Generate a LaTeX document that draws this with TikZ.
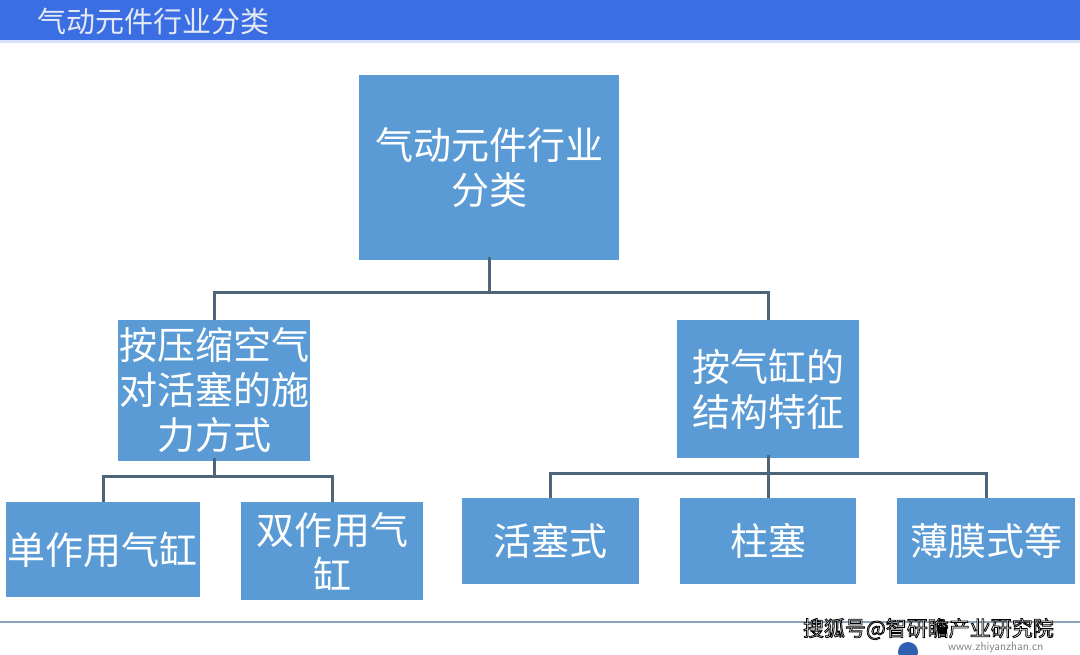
\documentclass[tikz,border=0pt]{standalone}
\usepackage{fontspec}
\newfontfamily\cjk{Noto Sans CJK SC}
\definecolor{hdr}{HTML}{3B6DE3}
\definecolor{boxc}{HTML}{5B9BD5}
\definecolor{connc}{HTML}{4E6478}
\definecolor{rulec}{HTML}{8FA3B8}
\definecolor{titletext}{HTML}{E4E9F4}
\definecolor{logoc}{HTML}{2E5FB0}
\newcommand{\outlinedtext}[1]{\special{pdf:literal direct 2 Tr 0.8 w 0 0 0 RG}#1\special{pdf:literal direct 0 Tr}}
\begin{document}
\begin{tikzpicture}[x=1pt,y=-1pt,
  box/.style={draw=none, fill=boxc, inner sep=0pt, text=white,
    font=\cjk\fontsize{38}{45}\selectfont, align=center},
  conn/.style={draw=connc, line width=3pt},
]
\useasboundingbox (0,0) rectangle (1080,654);
\fill[white] (0,0) rectangle (1080,654);
% header
\fill[hdr] (0,0) rectangle (1080,40);
\fill[hdr!20] (0,40) rectangle (1080,43);
\node[anchor=west, inner sep=0pt, text=titletext, font=\cjk\fontsize{29}{29}\selectfont] (title) at (37,21) {气动元件行业分类};

% boxes
\node[box, minimum width=260, minimum height=185] (root) at (489,167.5) {气动元件行业\\分类};
\node[box, minimum width=192, minimum height=141] (midL) at (214,390.5) {按压缩空气\\对活塞的施\\力方式};
\node[box, minimum width=182, minimum height=138] (midR) at (768,389) {按气缸的\\结构特征};
\node[box, minimum width=194, minimum height=95] (b1) at (103,549.5) {单作用气缸};
\node[box, minimum width=182, minimum height=98] (b2) at (332,551) {双作用气\\缸};
\node[box, minimum width=177, minimum height=86] (b3) at (550.5,541) {活塞式};
\node[box, minimum width=176, minimum height=86] (b4) at (768,541) {柱塞};
\node[box, minimum width=178, minimum height=86] (b5) at (986,541) {薄膜式等};

% connectors
\draw[conn] ([yshift=3]root.south) -- ++(0,35) coordinate (j1);
\draw[conn] (midL.north) -- (midL.north |- j1) -- (midR.north |- j1) -- (midR.north);
\draw[conn] ([yshift=3]midL.south) -- ++(0,18) coordinate (j2);
\draw[conn] (b1.north) -- (b1.north |- j2) -- (b2.north |- j2) -- (b2.north);
\draw[conn] ([yshift=3]midR.south) -- ++(0,18) coordinate (j3);
\draw[conn] (b3.north) -- (b3.north |- j3) -- (b5.north |- j3) -- (b5.north);
\draw[conn] (j3) -- (b4.north);

% footer
\draw[rulec, line width=1.5pt] (0,622) -- (1080,622);
\fill[logoc] (908,652) circle (10);
\node[anchor=west, inner sep=0pt, text=gray, font=\sffamily\fontsize{12}{12}\selectfont] (url) at (948,648) {www.zhiyanzhan.cn};
\node[anchor=east, inner sep=0pt, text=white, font=\cjk\fontsize{21}{21}\selectfont] (sohu) at (1054,629) {\outlinedtext{搜狐号@智研瞻产业研究院}};
\end{tikzpicture}
\end{document}
